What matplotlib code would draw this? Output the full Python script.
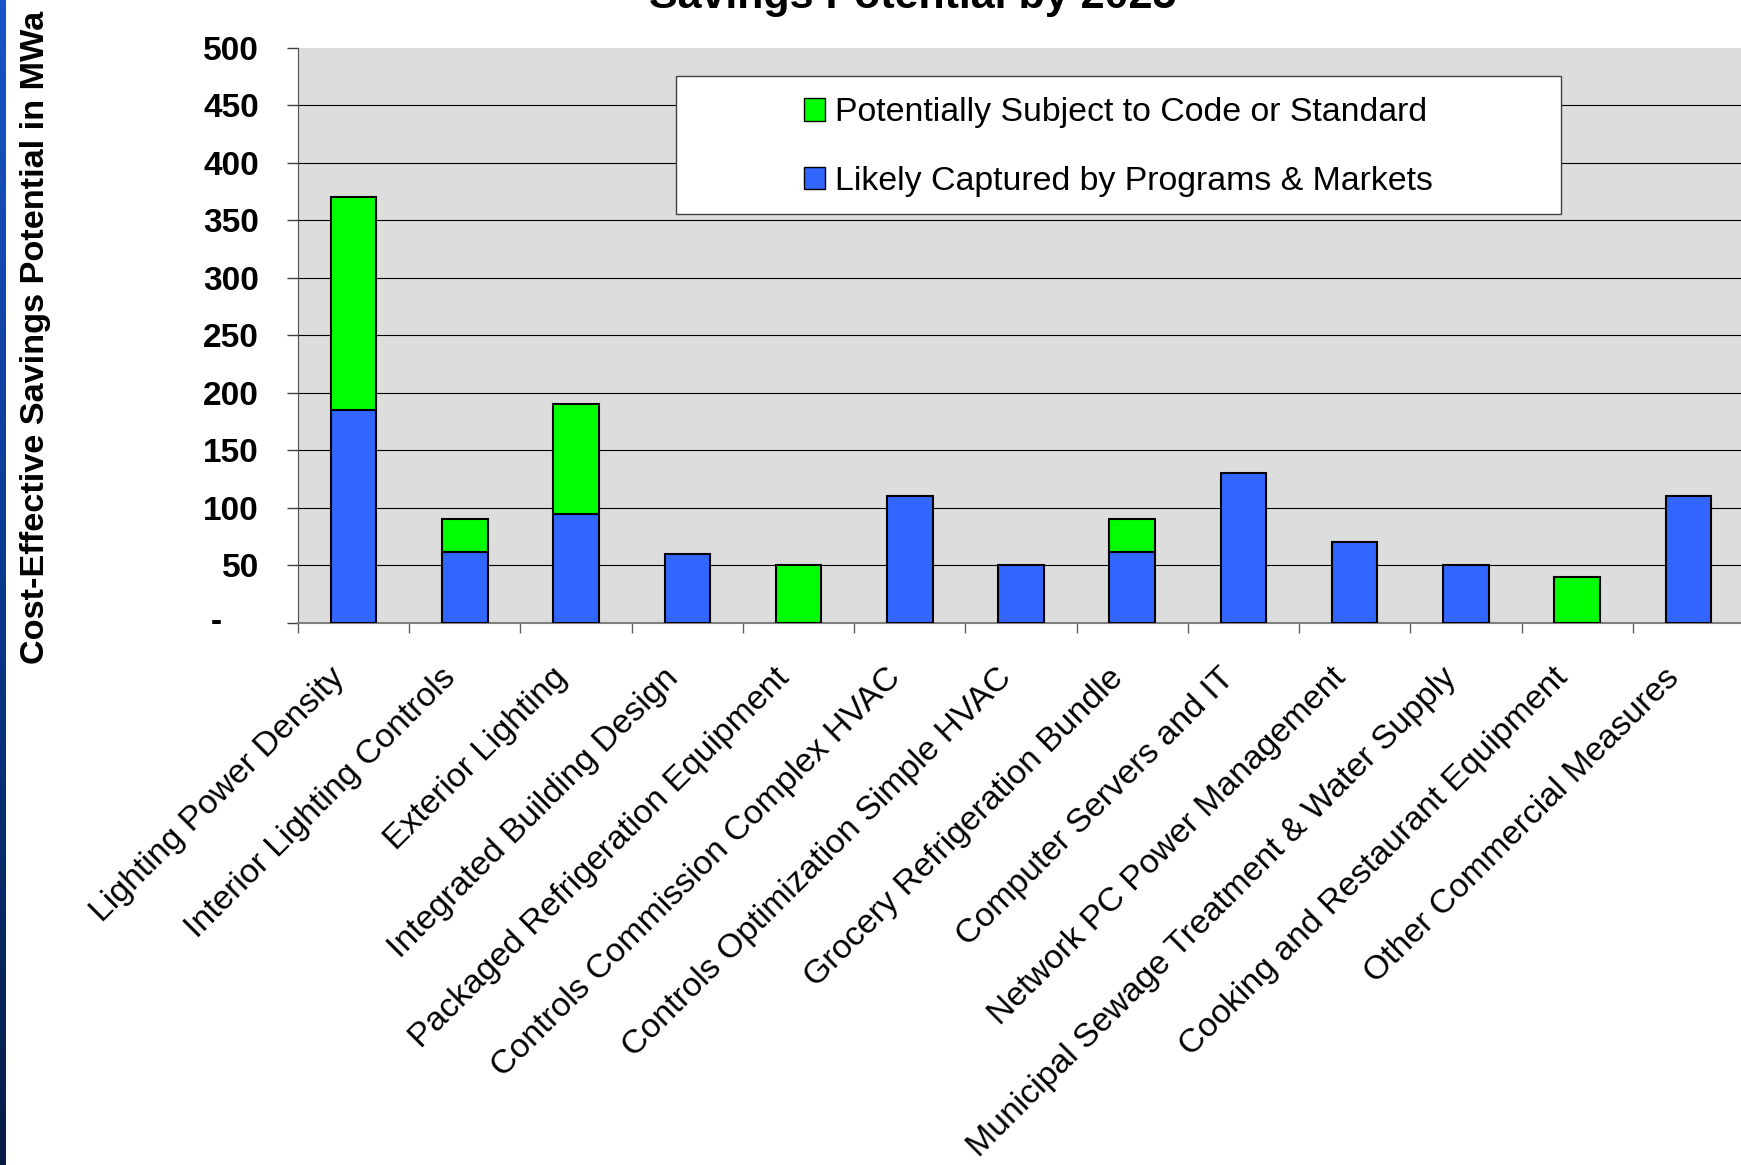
import numpy as np
import matplotlib.pyplot as plt
from matplotlib.patches import Patch, Rectangle
from matplotlib.colors import LinearSegmentedColormap
from matplotlib.transforms import ScaledTranslation

categories = [
    "Lighting Power Density",
    "Interior Lighting Controls",
    "Exterior Lighting",
    "Integrated Building Design",
    "Packaged Refrigeration Equipment",
    "Controls Commission Complex HVAC",
    "Controls Optimization Simple HVAC",
    "Grocery Refrigeration Bundle",
    "Computer Servers and IT",
    "Network PC Power Management",
    "Municipal Sewage Treatment & Water Supply",
    "Cooking and Restaurant Equipment",
    "Other Commercial Measures",
]
# MWa
captured = [185, 62, 95, 60, 0, 110, 50, 62, 130, 70, 50, 0, 110]
code_std = [185, 28, 95, 0, 50, 0, 0, 28, 0, 0, 0, 40, 0]
y_ticks = [0, 50, 100, 150, 200, 250, 300, 350, 400, 450, 500]
legend_labels = ["Potentially Subject to Code or Standard",
                 "Likely Captured by Programs & Markets"]

BLUE = "#3366FF"
GREEN = "#00FF00"

plt.rcParams['font.family'] = ['Liberation Sans', 'DejaVu Sans']

W, H = 1741, 1165
fig = plt.figure(figsize=(W / 100, H / 100), dpi=100)

# slide edge strip on the left
strip = fig.add_axes([0, 0, 6 / W, 1])
strip.imshow(np.linspace(0, 1, 256)[:, None], aspect='auto',
             cmap=LinearSegmentedColormap.from_list('s', ['#1a55c8', '#0a3a90', '#071c45']))
strip.axis('off')

ax = fig.add_axes([298 / W, 1 - 623 / H, (1744 - 298) / W, (623 - 47.7) / H])
ax.set_facecolor('#DDDDDD')

x = np.arange(len(categories))
cap = np.array(captured)
cs = np.array(code_std)
m1 = cap > 0
m2 = cs > 0
ax.bar(x[m1], cap[m1], width=0.41, color=BLUE, edgecolor='black', linewidth=1.5, zorder=3)
ax.bar(x[m2], cs[m2], width=0.41, bottom=cap[m2], color=GREEN, edgecolor='black',
       linewidth=1.5, zorder=3)

ax.set_xlim(-0.5, len(categories) - 0.5)
ax.set_ylim(y_ticks[0], y_ticks[-1])
ax.hlines(y_ticks[1:-1], -0.5, len(categories) - 0.5, colors='black', linewidth=0.8, zorder=1)

for s in ['top', 'right']:
    ax.spines[s].set_visible(False)
ax.spines['left'].set_color('#505050')
ax.spines['bottom'].set_color('#808080')
ax.spines['bottom'].set_linewidth(1.5)

ax.set_yticks(y_ticks)
ax.set_yticklabels([str(v) if v else '' for v in y_ticks], fontsize=24, fontweight='bold')
ax.tick_params(axis='y', direction='out', length=8, width=1, color='#404040', pad=20)
ax.annotate('-', xy=(0, y_ticks[0]), xycoords=('axes fraction', 'data'),
            xytext=(-55, 0), textcoords='offset points', ha='right', va='center',
            fontsize=24, fontweight='bold')

ax.set_xticks(x)
ax.set_xticklabels(categories, rotation=45, ha='right', va='center',
                   rotation_mode='anchor', fontsize=24.3)
ax.tick_params(axis='x', which='major', length=0, pad=26)
ax.set_xticks(np.arange(len(categories)) - 0.5, minor=True)
ax.tick_params(axis='x', which='minor', length=7, width=1, color='#606060', direction='out')
shift = ScaledTranslation(-0.14, -0.14, fig.dpi_scale_trans)
for lbl in ax.get_xticklabels():
    lbl.set_transform(lbl.get_transform() + shift)

fig.text(0.524, 1 - 8 / H, "Savings Potential by 2025", ha='center', va='baseline',
         fontsize=31, fontweight='bold')
fig.text(36 / W, 1 - 337 / H, "Cost-Effective Savings Potential in MWa", rotation=90,
         ha='center', va='center', fontsize=24.7, fontweight='bold')

# legend box
fig.add_artist(Rectangle((676 / W, 1 - 214 / H), 885 / W, 138.5 / H, transform=fig.transFigure,
                         facecolor='white', edgecolor='#404040', linewidth=1, zorder=4))
handles = [Patch(facecolor=GREEN, edgecolor='black', linewidth=1),
           Patch(facecolor=BLUE, edgecolor='black', linewidth=1)]
leg = fig.legend(handles=handles, labels=legend_labels, loc='center',
                 bbox_to_anchor=(1118.5 / W, 1 - 147 / H), frameon=False, fontsize=24.4,
                 handlelength=0.64, handleheight=0.64, handletextpad=0.3, labelspacing=1.1)
leg.set_zorder(5)

fig.savefig("out.png", dpi=100)
